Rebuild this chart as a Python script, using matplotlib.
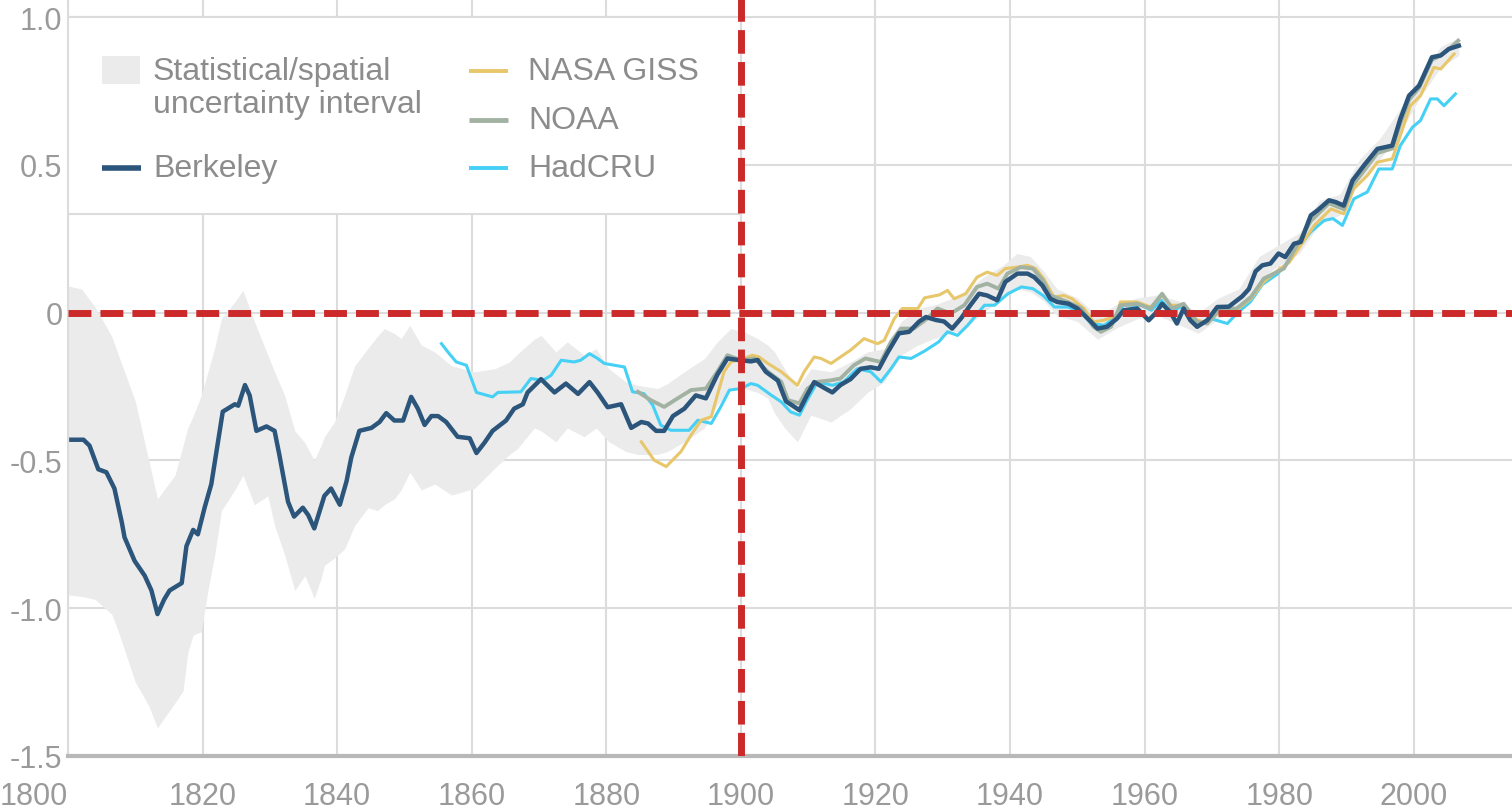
import matplotlib
matplotlib.use("Agg")
import matplotlib.pyplot as plt
from matplotlib.patches import Rectangle
from matplotlib.lines import Line2D

plt.rcParams['font.family'] = ['Liberation Sans', 'DejaVu Sans']

# ---- data (10-year moving averages, deg C) ----
berkeley_years = [1800.5, 1802.3, 1803.2, 1804.5, 1805.7, 1806.9, 1808.0, 1808.4, 1809.9, 1811.4,
                  1812.4, 1813.3, 1814.3, 1815.1, 1816.9, 1817.6, 1818.6, 1819.3, 1820.3, 1821.3,
                  1823.0, 1824.8, 1825.3, 1826.3, 1827.0, 1828.0, 1829.5, 1830.7, 1831.4, 1832.7,
                  1833.6, 1834.9, 1835.7, 1836.6, 1838.1, 1839.1, 1840.4, 1841.4, 1842.1, 1843.3,
                  1845.1, 1846.3, 1847.3, 1848.5, 1849.8, 1851.0, 1852.0, 1853.0, 1854.0, 1855.0,
                  1856.2, 1857.9, 1859.7, 1860.7, 1861.9, 1863.1, 1865.1, 1866.3, 1867.6, 1868.3,
                  1870.3, 1872.3, 1874.0, 1875.8, 1877.5, 1878.7, 1880.2, 1882.2, 1883.7, 1885.2,
                  1886.2, 1887.4, 1888.6, 1889.9, 1891.6, 1893.3, 1894.8, 1896.5, 1898.0, 1899.5,
                  1901.5, 1902.5, 1903.7, 1905.5, 1906.7, 1908.7, 1909.7, 1910.9, 1912.4, 1913.6,
                  1914.8, 1916.3, 1917.8, 1919.3, 1920.5, 1921.8, 1923.5, 1925.0, 1926.5, 1927.5,
                  1929.0, 1930.2, 1931.4, 1932.7, 1934.1, 1935.4, 1936.6, 1938.1, 1939.3, 1941.1,
                  1942.6, 1943.6, 1944.8, 1946.0, 1947.0, 1948.7, 1950.0, 1952.0, 1953.0, 1954.4,
                  1955.9, 1956.9, 1958.9, 1960.6, 1961.6, 1962.6, 1963.8, 1964.8, 1965.8, 1966.8,
                  1967.8, 1969.3, 1970.8, 1972.5, 1974.5, 1975.5, 1976.5, 1977.5, 1978.7, 1979.9,
                  1980.9, 1982.2, 1983.2, 1984.7, 1985.7, 1987.4, 1988.4, 1989.6, 1990.9, 1992.6,
                  1994.6, 1996.8, 1998.0, 1999.3, 2000.8, 2002.7, 2004.0, 2005.2, 2006.7]
berkeley = [-0.43, -0.43, -0.45, -0.53, -0.54, -0.595, -0.71, -0.76, -0.84, -0.89,
            -0.94, -1.02, -0.97, -0.94, -0.915, -0.79, -0.735, -0.75, -0.66, -0.58,
            -0.335, -0.31, -0.315, -0.245, -0.28, -0.40, -0.385, -0.40, -0.48, -0.64,
            -0.69, -0.66, -0.685, -0.73, -0.62, -0.595, -0.65, -0.57, -0.49, -0.40,
            -0.39, -0.37, -0.34, -0.365, -0.365, -0.285, -0.325, -0.38, -0.35, -0.35,
            -0.37, -0.42, -0.425, -0.475, -0.44, -0.40, -0.365, -0.325, -0.31, -0.27,
            -0.225, -0.27, -0.24, -0.275, -0.235, -0.27, -0.32, -0.31, -0.39, -0.37,
            -0.375, -0.40, -0.40, -0.35, -0.325, -0.28, -0.29, -0.21, -0.155, -0.16,
            -0.165, -0.16, -0.20, -0.23, -0.30, -0.33, -0.285, -0.235, -0.255, -0.27,
            -0.245, -0.225, -0.19, -0.185, -0.19, -0.135, -0.07, -0.065, -0.03, -0.015,
            -0.025, -0.03, -0.054, -0.02, 0.025, 0.064, 0.058, 0.042, 0.104, 0.132,
            0.132, 0.12, 0.092, 0.047, 0.036, 0.03, 0.014, -0.03, -0.054, -0.048,
            -0.02, 0.008, 0.014, -0.026, -0.003, 0.03, 0.002, -0.037, 0.014, -0.026,
            -0.048, -0.026, 0.019, 0.02, 0.055, 0.08, 0.14, 0.16, 0.166, 0.20,
            0.188, 0.233, 0.239, 0.329, 0.346, 0.38, 0.374, 0.362, 0.447, 0.498,
            0.554, 0.565, 0.655, 0.734, 0.768, 0.864, 0.87, 0.892, 0.903]

band_years = [1800.0, 1802.0, 1804.0, 1806.5, 1807.5, 1810.0, 1812.0, 1813.3, 1815.9, 1817.1,
              1817.8, 1818.6, 1819.8, 1820.8, 1821.8, 1822.8, 1824.8, 1826.0, 1827.7, 1829.7,
              1830.7, 1832.2, 1833.7, 1835.2, 1836.6, 1837.6, 1838.1, 1839.6, 1841.1, 1842.6,
              1844.6, 1846.0, 1847.0, 1848.5, 1849.5, 1850.8, 1852.5, 1854.5, 1857.0, 1860.4,
              1863.4, 1865.6, 1866.8, 1869.3, 1870.3, 1872.5, 1874.2, 1876.7, 1878.5, 1880.4,
              1882.9, 1884.7, 1887.6, 1889.1, 1891.6, 1894.6, 1896.5, 1898.5, 1900.5, 1902.5,
              1904.0, 1905.0, 1906.5, 1908.4, 1910.4, 1913.4, 1916.3, 1918.8, 1921.3, 1923.8,
              1926.3, 1928.7, 1931.2, 1933.0, 1936.0, 1939.0, 1941.0, 1943.0, 1945.0, 1947.0,
              1950.0, 1953.0, 1956.0, 1959.0, 1962.0, 1965.0, 1968.0, 1971.0, 1974.0, 1977.0,
              1980.0, 1983.0, 1986.0, 1989.0, 1992.0, 1995.0, 1998.0, 2001.0, 2004.0, 2006.7]
band_hi = [0.09, 0.08, 0.02, -0.08, -0.144, -0.30, -0.50, -0.63, -0.55, -0.45,
           -0.39, -0.35, -0.28, -0.20, -0.12, -0.02, 0.037, 0.075, -0.03, -0.144,
           -0.20, -0.28, -0.40, -0.44, -0.50, -0.45, -0.42, -0.37, -0.28, -0.18,
           -0.12, -0.08, -0.054, -0.07, -0.088, -0.043, -0.11, -0.133, -0.18, -0.20,
           -0.19, -0.167, -0.14, -0.09, -0.077, -0.133, -0.099, -0.144, -0.122, -0.19,
           -0.234, -0.246, -0.257, -0.24, -0.20, -0.155, -0.099, -0.054, -0.065, -0.088,
           -0.11, -0.133, -0.19, -0.257, -0.19, -0.20, -0.167, -0.133, -0.122, -0.031,
           0.014, 0.025, 0.047, 0.06, 0.12, 0.16, 0.20, 0.19, 0.14, 0.08,
           0.05, -0.01, 0.03, 0.05, 0.06, 0.04, 0.0, 0.05, 0.08, 0.19,
           0.23, 0.27, 0.38, 0.40, 0.52, 0.59, 0.69, 0.80, 0.90, 0.93]
band_lo = [-0.955, -0.96, -0.97, -1.02, -1.08, -1.25, -1.33, -1.405, -1.32, -1.28,
           -1.15, -1.09, -1.08, -0.94, -0.82, -0.67, -0.60, -0.55, -0.65, -0.62,
           -0.72, -0.82, -0.94, -0.89, -0.966, -0.90, -0.855, -0.83, -0.80, -0.72,
           -0.66, -0.67, -0.65, -0.63, -0.60, -0.54, -0.60, -0.58, -0.617, -0.595,
           -0.527, -0.48, -0.46, -0.39, -0.40, -0.437, -0.39, -0.42, -0.39, -0.437,
           -0.47, -0.48, -0.48, -0.47, -0.437, -0.39, -0.313, -0.257, -0.257, -0.27,
           -0.29, -0.34, -0.39, -0.437, -0.347, -0.37, -0.325, -0.27, -0.234, -0.144,
           -0.11, -0.088, -0.07, -0.06, 0.0, 0.05, 0.08, 0.07, 0.04, -0.01,
           -0.03, -0.09, -0.05, -0.02, -0.01, -0.04, -0.07, -0.02, 0.01, 0.11,
           0.16, 0.20, 0.30, 0.33, 0.45, 0.52, 0.61, 0.73, 0.83, 0.87]

hadcru_years = [1855.5, 1856.7, 1857.7, 1859.2, 1860.7, 1863.1, 1863.9, 1867.3, 1868.8, 1870.6,
                1871.8, 1873.3, 1875.2, 1876.2, 1877.5, 1878.7, 1879.7, 1881.2, 1882.7, 1883.9,
                1885.6, 1886.9, 1888.1, 1889.6, 1892.3, 1893.6, 1895.6, 1897.0, 1898.3, 1900.0,
                1901.5, 1902.5, 1904.5, 1906.0, 1907.4, 1908.7, 1909.7, 1911.4, 1913.6, 1915.3,
                1917.3, 1919.3, 1920.8, 1922.3, 1923.5, 1925.3, 1927.3, 1929.4, 1930.7, 1932.2,
                1933.7, 1936.2, 1937.7, 1939.7, 1941.7, 1943.4, 1944.9, 1946.6, 1948.6, 1950.6,
                1952.0, 1954.0, 1956.0, 1956.8, 1959.5, 1961.0, 1962.5, 1963.9, 1965.8, 1967.8,
                1969.8, 1972.3, 1973.7, 1975.7, 1977.5, 1979.7, 1981.7, 1982.7, 1984.7, 1986.7,
                1988.0, 1989.4, 1991.1, 1993.1, 1994.8, 1996.8, 1998.0, 1999.8, 2001.0, 2002.5,
                2003.5, 2004.5, 2006.2]
hadcru = [-0.105, -0.14, -0.167, -0.178, -0.27, -0.285, -0.27, -0.268, -0.223, -0.229,
          -0.212, -0.161, -0.167, -0.161, -0.139, -0.155, -0.172, -0.178, -0.184, -0.268,
          -0.274, -0.313, -0.381, -0.398, -0.398, -0.364, -0.375, -0.319, -0.262, -0.257,
          -0.24, -0.246, -0.279, -0.302, -0.336, -0.347, -0.302, -0.234, -0.246, -0.234,
          -0.19, -0.20, -0.234, -0.19, -0.15, -0.155, -0.13, -0.099, -0.065, -0.077,
          -0.043, 0.025, 0.025, 0.064, 0.087, 0.081, 0.058, 0.019, 0.019, 0.002,
          -0.037, -0.043, -0.01, 0.025, 0.025, 0.008, 0.042, 0.002, 0.025, -0.043,
          -0.02, -0.037, -0.003, 0.036, 0.095, 0.13, 0.182, 0.216, 0.273, 0.312,
          0.318, 0.295, 0.385, 0.408, 0.486, 0.486, 0.565, 0.627, 0.65, 0.723,
          0.723, 0.70, 0.74]

giss_years = [1885.2, 1887.1, 1888.9, 1891.1, 1892.6, 1894.1, 1895.6, 1896.5, 1897.5, 1898.5,
              1900.5, 1901.7, 1902.7, 1904.0, 1906.0, 1908.4, 1909.4, 1910.9, 1911.9, 1913.4,
              1914.8, 1916.3, 1918.3, 1920.3, 1921.3, 1922.8, 1924.0, 1926.3, 1927.3, 1929.5,
              1930.7, 1931.7, 1933.4, 1935.1, 1936.6, 1938.1, 1939.3, 1941.1, 1942.6, 1943.8,
              1945.0, 1946.5, 1948.0, 1949.2, 1951.0, 1952.4, 1953.9, 1955.9, 1956.4, 1958.9,
              1960.9, 1962.6, 1963.9, 1965.8, 1967.3, 1969.3, 1970.8, 1973.3, 1975.8, 1977.7,
              1980.2, 1981.5, 1983.2, 1985.2, 1987.7, 1989.6, 1991.1, 1993.1, 1994.6, 1996.8,
              1998.0, 1999.5, 2001.0, 2003.0, 2004.0, 2006.0]
giss = [-0.437, -0.499, -0.521, -0.47, -0.414, -0.364, -0.352, -0.279, -0.20, -0.167,
        -0.155, -0.144, -0.15, -0.172, -0.20, -0.246, -0.20, -0.15, -0.155, -0.172,
        -0.15, -0.127, -0.088, -0.105, -0.094, -0.02, 0.014, 0.014, 0.05, 0.06,
        0.075, 0.047, 0.064, 0.12, 0.137, 0.126, 0.149, 0.154, 0.16, 0.149,
        0.115, 0.053, 0.058, 0.047, 0.014, -0.031, -0.026, -0.009, 0.036, 0.036,
        0.019, 0.058, 0.025, 0.025, -0.02, -0.037, -0.003, 0.002, 0.047, 0.104,
        0.15, 0.17, 0.227, 0.295, 0.351, 0.334, 0.419, 0.464, 0.509, 0.52,
        0.599, 0.70, 0.734, 0.83, 0.824, 0.875]

noaa_years = [1884.7, 1886.6, 1888.6, 1890.6, 1892.6, 1894.8, 1896.5, 1898.0, 1900.0, 1902.0,
              1904.0, 1906.0, 1907.0, 1908.7, 1909.9, 1911.4, 1913.4, 1914.8, 1916.8, 1918.5,
              1920.8, 1922.3, 1923.8, 1925.7, 1927.7, 1929.2, 1931.2, 1933.2, 1935.1, 1936.6,
              1938.3, 1939.6, 1941.6, 1943.4, 1944.9, 1946.0, 1948.6, 1950.6, 1952.4, 1953.5,
              1955.0, 1956.4, 1958.9, 1960.9, 1962.6, 1964.1, 1965.8, 1967.8, 1969.3, 1971.3,
              1973.7, 1975.8, 1977.7, 1980.7, 1982.2, 1984.7, 1987.4, 1989.6, 1990.9, 1992.6,
              1994.6, 1996.8, 1998.0, 1999.3, 2000.8, 2002.7, 2004.0, 2005.2, 2006.6]
noaa = [-0.268, -0.296, -0.319, -0.29, -0.262, -0.257, -0.20, -0.144, -0.161, -0.155,
        -0.20, -0.234, -0.296, -0.307, -0.257, -0.234, -0.229, -0.223, -0.178, -0.155,
        -0.167, -0.099, -0.054, -0.054, -0.02, 0.014, -0.003, 0.025, 0.087, 0.098,
        0.081, 0.132, 0.154, 0.149, 0.109, 0.058, 0.036, 0.014, -0.048, -0.065,
        -0.048, 0.025, 0.03, 0.014, 0.064, 0.014, 0.03, -0.031, -0.037, 0.014,
        0.014, 0.053, 0.115, 0.149, 0.21, 0.31, 0.37, 0.35, 0.43, 0.48,
        0.54, 0.555, 0.64, 0.72, 0.76, 0.855, 0.87, 0.89, 0.92]

x_ticks = [1800, 1820, 1840, 1860, 1880, 1900, 1920, 1940, 1960, 1980, 2000]
y_ticks = [-1.5, -1.0, -0.5, 0, 0.5, 1.0]
y_tick_labels = ["-1.5", "-1.0", "-0.5", "0", "0.5", "1.0"]

C_BERK = "#2b557a"
C_GISS = "#e8c66a"
C_NOAA = "#a2b2a2"
C_HAD = "#45d0f5"
C_BAND = "#ebebeb"
C_RED = "#cc2a2a"
C_GRID = "#dcdcdc"
C_TEXT = "#8c8c8c"

W, H = 1512, 812
fig = plt.figure(figsize=(W / 100, H / 100), dpi=100)
ax = fig.add_axes([68 / W, 1 - 757 / H, 1 - 68 / W, 757 / H])
ax.set_xlim(1800, 2014.6)
ax.set_ylim(-1.5, 1.061)

ax.fill_between(band_years, band_lo, band_hi, color=C_BAND, lw=0, zorder=2)
ax.plot(hadcru_years, hadcru, color=C_HAD, lw=2.2, zorder=4)
ax.plot(giss_years, giss, color=C_GISS, lw=2.2, zorder=5)
ax.plot(noaa_years, noaa, color=C_NOAA, lw=2.8, zorder=6)
ax.plot(berkeley_years, berkeley, color=C_BERK, lw=3.2, zorder=7)

ax.axhline(0, color=C_RED, lw=5, dashes=(3.3, 1.3), zorder=10)
ax.axvline(1900, color=C_RED, lw=5, dashes=(3.4, 1.2), zorder=10)

ax.set_xticks(x_ticks)
ax.set_xticklabels([str(t) for t in x_ticks])
ax.get_xticklabels()[0].set_horizontalalignment('right')
ax.set_yticks(y_ticks)
ax.set_yticklabels(y_tick_labels)
ax.grid(color=C_GRID, lw=1.5)
ax.tick_params(axis='both', length=0, labelsize=22, labelcolor="#9a9a9a")
ax.tick_params(axis='x', pad=18)
ax.tick_params(axis='y', pad=4)

for s in ['top', 'right']:
    ax.spines[s].set_visible(False)
ax.spines['left'].set_color(C_GRID)
ax.spines['left'].set_linewidth(1.5)
ax.spines['bottom'].set_color("#b8b8b8")
ax.spines['bottom'].set_linewidth(3)

# legend box (white panel over the top-left corner)
ax.add_patch(Rectangle((1800, 0.335), 100, 1.0 - 0.335, facecolor='white',
                       edgecolor=C_GRID, lw=1.5, zorder=3))


def fx(x):
    return x / W


def fy(y):
    return 1 - y / H


fig.add_artist(Rectangle((fx(102), fy(85)), 38 / W, 28 / H, transform=fig.transFigure,
                         facecolor=C_BAND, edgecolor='none', zorder=11))
fig.text(fx(153), fy(72), "Statistical/spatial", fontsize=23, color=C_TEXT, va='center', zorder=11)
fig.text(fx(153), fy(105), "uncertainty interval", fontsize=23, color=C_TEXT, va='center', zorder=11)

# (colour, width, handle x, y, text x, label)
handles = [(C_BERK, 4.0, 102, 169, 153, "Berkeley"),
           (C_GISS, 2.8, 469, 72, 528, "NASA GISS"),
           (C_NOAA, 3.5, 469, 121, 528, "NOAA"),
           (C_HAD, 2.8, 469, 169, 528, "HadCRU")]
for col, lw, x0, y0, tx, label in handles:
    fig.add_artist(Line2D([fx(x0), fx(x0 + 39)], [fy(y0), fy(y0)], transform=fig.transFigure,
                          color=col, lw=lw, solid_capstyle='butt', zorder=11))
    fig.text(fx(tx), fy(y0), label, fontsize=23, color=C_TEXT, va='center', zorder=11)

fig.savefig("out.png", dpi=100)
